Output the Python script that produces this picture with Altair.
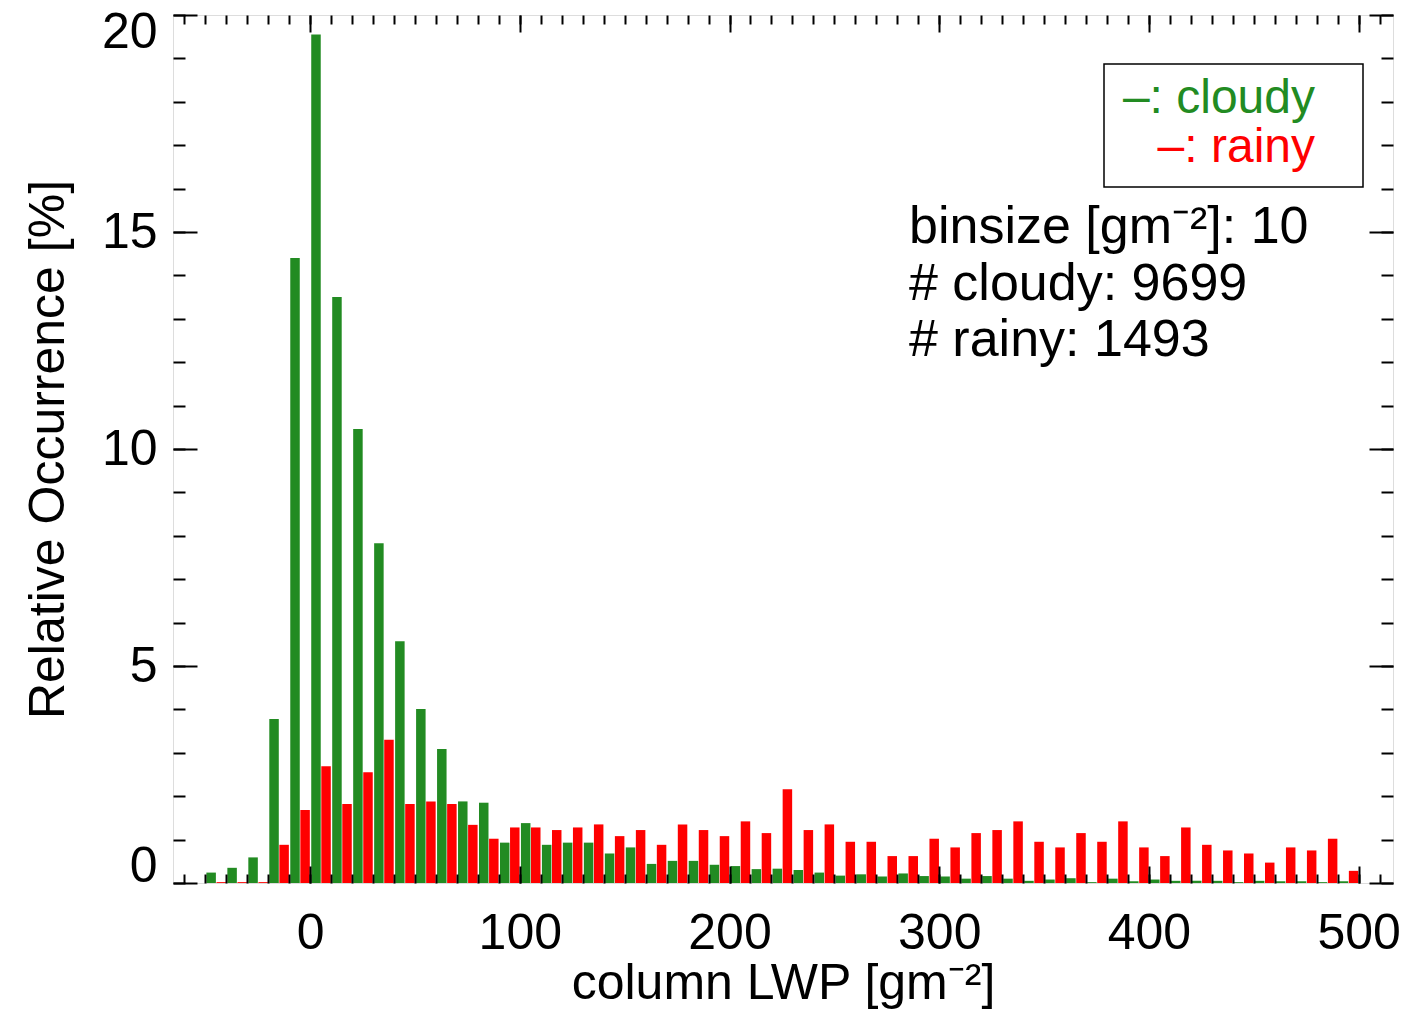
import altair as alt
import pandas as pd

# ---------------- data ----------------
bins = list(range(-50, 500, 10))
cloudy = [0.24, 0.35, 0.59, 3.78, 14.40, 19.55, 13.50, 10.46, 7.83, 5.57,
          4.01, 3.09, 1.88, 1.85, 0.93, 1.38, 0.88, 0.93, 0.93, 0.68,
          0.82, 0.44, 0.51, 0.51, 0.42, 0.39, 0.32, 0.33, 0.30, 0.24,
          0.17, 0.20, 0.15, 0.22, 0.16, 0.15, 0.10, 0.16, 0.10, 0.05,
          0.08, 0.11, 0.02, 0.10, 0.04, 0.08, 0.05, 0.05, 0.05, 0.02,
          0.05, 0.04, 0.04, 0.02, 0.04]
rainy = [0.02, 0.02, 0.02, 0.88, 1.68, 2.69, 1.82, 2.55, 3.30, 1.82,
         1.88, 1.82, 1.34, 1.02, 1.28, 1.28, 1.22, 1.28, 1.35, 1.08,
         1.22, 0.88, 1.35, 1.22, 1.08, 1.42, 1.15, 2.16, 1.22, 1.35,
         0.95, 0.95, 0.62, 0.62, 1.02, 0.82, 1.15, 1.22, 1.42, 0.95,
         0.82, 1.15, 0.95, 1.42, 0.82, 0.62, 1.28, 0.88, 0.75, 0.68,
         0.47, 0.82, 0.75, 1.02, 0.28]
series_names = ["cloudy", "rainy"]
series_colors = ["#228B22", "#FF0000"]

x_major = [0, 100, 200, 300, 400, 500]
x_minor = list(range(-60, 511, 10))
y_major = [0, 5, 10, 15, 20]
y_minor = list(range(0, 21))

legend_labels = ["\u2013: cloudy", "\u2013: rainy"]
info_lines = ["binsize [gm\u207b\u00b2]: 10", "# cloudy: 9699", "# rainy: 1493"]

FONT = "Liberation Sans"
W, H = 1220, 868

df = pd.DataFrame({
    "bin": bins * 2,
    "value": cloudy + rainy,
    "series": [series_names[0]] * len(bins) + [series_names[1]] * len(bins),
})
dummy = pd.DataFrame({"x": [0], "y": [0]})

xscale = alt.Scale(domain=[-63, 514], nice=False, zero=False)
yscale = alt.Scale(domain=[0, 20], nice=False, zero=False)

bars = alt.Chart(df).transform_calculate(
    xc="datum.bin + (datum.series == 'cloudy' ? 2.8 : 7.6)"
).mark_bar(size=9.5).encode(
    x=alt.X("xc:Q", scale=xscale, axis=None),
    y=alt.Y("value:Q", scale=yscale, axis=None),
    color=alt.Color("series:N", scale=alt.Scale(domain=series_names, range=series_colors), legend=None),
)

common = dict(domain=False, grid=False, tickColor="black", tickWidth=2, zindex=1, ticks=True)


def axis_layer(xaxis, yaxis, xtitle=None, ytitle=None):
    return alt.Chart(dummy).mark_point(opacity=0).encode(
        x=alt.X("x:Q", scale=xscale, axis=xaxis, title=xtitle),
        y=alt.Y("y:Q", scale=yscale, axis=yaxis, title=ytitle),
    )


lay1 = axis_layer(
    alt.Axis(orient="bottom", values=x_major, tickSize=17, offset=-17, labels=True,
             labelFontSize=50, labelFont=FONT, labelColor="black", labelPadding=25,
             labelFlush=False, labelOverlap=False, labelBound=False,
             titleFontSize=50, titleFont=FONT, titleFontWeight="normal", titleColor="black",
             titlePadding=0, **common),
    alt.Axis(orient="left", values=y_major, tickSize=24, offset=-24, labels=True,
             labelFontSize=50, labelFont=FONT, labelColor="black", labelPadding=16,
             labelFlush=True, labelFlushOffset=8, labelOverlap=False,
             titleFontSize=50, titleFont=FONT, titleFontWeight="normal", titleColor="black",
             titlePadding=28, **common),
    xtitle="column LWP [gm\u207b\u00b2]",
    ytitle="Relative Occurrence [%]",
)
lay2 = axis_layer(
    alt.Axis(orient="bottom", values=x_minor, tickSize=9, offset=-9, labels=False, **common),
    alt.Axis(orient="left", values=y_minor, tickSize=12, offset=-12, labels=False, **common),
)
lay3 = axis_layer(
    alt.Axis(orient="top", values=x_major, tickSize=17, offset=-17, labels=False, **common),
    alt.Axis(orient="right", values=y_major, tickSize=24, offset=-24, labels=False, **common),
)
lay4 = axis_layer(
    alt.Axis(orient="top", values=x_minor, tickSize=9, offset=-9, labels=False, **common),
    alt.Axis(orient="right", values=y_minor, tickSize=12, offset=-12, labels=False, **common),
)

legend_box = alt.Chart(dummy).mark_rect(fill=None, stroke="black", strokeWidth=1.5).encode(
    x=alt.value(931), x2=alt.value(1190), y=alt.value(49), y2=alt.value(172)
)

legend_df = pd.DataFrame({"label": legend_labels, "series": series_names, "row": [0, 1]})
legend_text = alt.Chart(legend_df).mark_text(
    align="right", baseline="alphabetic", font=FONT, fontSize=48
).encode(
    x=alt.value(1142),
    y=alt.Y("row:Q", scale=alt.Scale(domain=[0, 1], range=[98, 147], zero=False, nice=False), axis=None),
    text="label:N",
    color=alt.Color("series:N", scale=alt.Scale(domain=series_names, range=series_colors), legend=None),
)

info_df = pd.DataFrame({"line": info_lines, "row": [0, 1, 2]})
info_text = alt.Chart(info_df).mark_text(
    align="left", baseline="alphabetic", font=FONT, fontSize=52, color="black"
).encode(
    x=alt.value(736),
    y=alt.Y("row:Q", scale=alt.Scale(domain=[0, 2], range=[228, 341], zero=False, nice=False), axis=None),
    text="line:N",
)

chart = alt.layer(
    bars, lay1, lay2, lay3, lay4, legend_box, legend_text, info_text
).resolve_axis(
    x="independent", y="independent"
).resolve_scale(
    x="shared", y="independent"
).properties(
    width=W, height=H,
    autosize=alt.AutoSizeParams(type="none"),
    padding={"left": 165, "top": 7, "right": 12, "bottom": 127},
).configure_view(
    stroke="black", strokeWidth=2
).configure(background="white")

chart.save("out.html", embed_options={"renderer": "svg", "actions": False})
